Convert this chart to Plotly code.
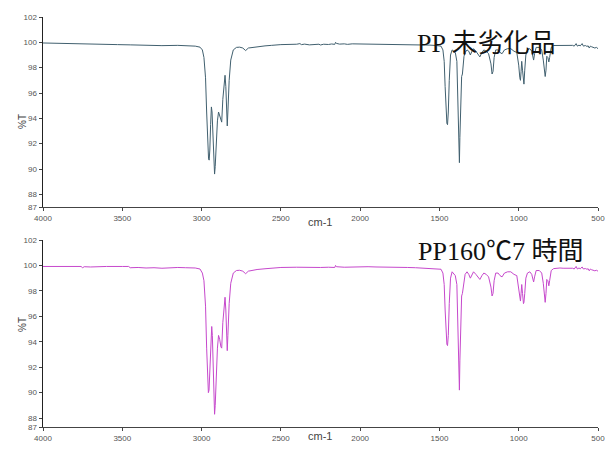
import plotly.graph_objects as go

# ---- data: top spectrum (PP 未劣化品) ----
wn_top = [4000, 3900, 3800, 3750, 3650, 3560, 3530, 3450, 3350, 3300, 3250, 3150, 3080, 3040, 3010,
          2995, 2985, 2975, 2968, 2962, 2956, 2952, 2948, 2943, 2938, 2934, 2928, 2922, 2918, 2914,
          2908, 2900, 2893, 2886, 2878, 2873, 2866, 2858, 2852, 2847, 2842, 2838, 2834, 2826, 2816,
          2800, 2780, 2760, 2740, 2722, 2705, 2680, 2650, 2600, 2560, 2500, 2400, 2380, 2370, 2350,
          2320, 2300, 2260, 2250, 2230, 2200, 2180, 2160, 2155, 2150, 2130, 2100, 2080, 2050, 2000,
          1950, 1900, 1850, 1800, 1750, 1700, 1650, 1600, 1560, 1520, 1490, 1478, 1470, 1464, 1458,
          1453, 1449, 1444, 1438, 1430, 1420, 1400, 1390, 1384, 1379, 1376, 1374, 1371, 1367, 1360,
          1355, 1345, 1338, 1326, 1315, 1305, 1295, 1285, 1270, 1255, 1245, 1232, 1220, 1205, 1190,
          1175, 1168, 1162, 1155, 1145, 1130, 1118, 1105, 1090, 1070, 1050, 1030, 1012, 1000, 993,
          989, 985, 981, 976, 970, 967, 962, 955, 945, 930, 918, 912, 906, 900, 890,
          870, 855, 845, 838, 833, 828, 823, 816, 810, 805, 795, 780, 760, 740, 720,
          700, 680, 660, 650, 645, 638, 630, 620, 612, 600, 592, 580, 570, 562, 555,
          548, 540, 530, 520, 510, 505, 500]
t_top = [99.95, 99.93, 99.90, 99.92, 99.90, 99.88, 99.82, 99.80, 99.76, 99.70, 99.74, 99.76, 99.74, 99.70, 99.62,
         99.40, 98.80, 97.20, 94.50, 92.00, 90.80, 90.70, 91.50, 93.50, 94.90, 94.50, 92.50, 90.20, 89.60, 90.20,
         92.00, 93.80, 94.50, 94.20, 93.80, 93.70, 95.50, 97.00, 97.40, 96.50, 94.50, 93.40, 94.50, 97.00, 98.60,
         99.40, 99.60, 99.62, 99.55, 99.35, 99.55, 99.60, 99.65, 99.72, 99.76, 99.82, 99.85, 99.90, 99.82, 99.86,
         99.80, 99.83, 99.85, 99.79, 99.85, 99.83, 99.87, 99.84, 100.00, 99.92, 99.86, 99.88, 99.84, 99.88, 99.87,
         99.90, 99.88, 99.88, 99.86, 99.86, 99.84, 99.82, 99.80, 99.78, 99.75, 99.70, 99.40, 98.50, 96.50, 94.50,
         93.60, 93.50, 94.50, 97.00, 99.00, 99.40, 99.20, 98.50, 96.00, 93.00, 91.00, 90.50, 92.50, 95.50, 97.30,
         97.50, 98.90, 99.20, 99.40, 99.30, 99.00, 99.30, 99.50, 99.30, 99.00, 98.85, 99.20, 99.40, 99.30, 99.10,
         98.30, 97.50, 97.70, 98.80, 99.40, 99.40, 99.20, 99.10, 99.40, 99.50, 99.50, 99.30, 99.20, 98.20, 97.20,
         97.00, 97.70, 98.50, 97.80, 96.80, 96.70, 97.80, 99.00, 99.40, 99.50, 99.30, 98.90, 98.60, 99.10, 99.60,
         99.60, 99.40, 98.60, 97.60, 97.30, 97.80, 98.90, 98.80, 98.45, 98.80, 99.60, 99.75, 99.75, 99.78, 99.76,
         99.80, 99.78, 99.76, 99.70, 99.78, 99.90, 99.70, 99.78, 99.72, 99.90, 99.70, 99.75, 99.68, 99.72, 99.55,
         99.70, 99.65, 99.62, 99.55, 99.60, 99.50, 99.50]

# ---- data: bottom spectrum (PP160℃7 時間) ----
wn_bot = [4000, 3900, 3850, 3820, 3760, 3750, 3740, 3700, 3650, 3600, 3500, 3460, 3450, 3400, 3350,
          3300, 3250, 3200, 3150, 3100, 3040, 3010, 2995, 2985, 2975, 2968, 2962, 2957, 2953, 2948,
          2942, 2936, 2932, 2927, 2922, 2918, 2914, 2908, 2900, 2893, 2886, 2878, 2873, 2866, 2858,
          2852, 2847, 2842, 2838, 2834, 2826, 2816, 2800, 2780, 2760, 2740, 2722, 2705, 2680, 2650,
          2600, 2560, 2500, 2400, 2350, 2300, 2250, 2200, 2160, 2155, 2150, 2100, 2050, 2000, 1950,
          1900, 1850, 1800, 1750, 1700, 1650, 1600, 1560, 1520, 1490, 1478, 1470, 1464, 1458, 1453,
          1449, 1444, 1438, 1430, 1420, 1400, 1390, 1384, 1379, 1376, 1374, 1371, 1367, 1360, 1355,
          1345, 1338, 1326, 1315, 1305, 1295, 1285, 1270, 1255, 1245, 1232, 1220, 1205, 1190, 1175,
          1168, 1162, 1155, 1145, 1130, 1118, 1105, 1090, 1070, 1050, 1030, 1012, 1000, 993, 989,
          985, 981, 976, 970, 967, 962, 955, 945, 930, 918, 912, 906, 900, 890, 870,
          855, 845, 838, 833, 828, 823, 816, 810, 805, 795, 780, 760, 740, 720, 700,
          680, 660, 650, 645, 638, 630, 620, 612, 600, 592, 580, 570, 562, 555, 548,
          540, 530, 520, 510, 505, 500]
t_bot = [99.92, 99.92, 99.88, 99.92, 99.92, 99.82, 99.90, 99.88, 99.92, 99.92, 99.92, 99.92, 99.82, 99.84, 99.80,
         99.82, 99.78, 99.82, 99.84, 99.82, 99.80, 99.72, 99.40, 98.80, 96.80, 93.50, 91.00, 90.00, 90.20, 92.00,
         94.00, 95.20, 94.50, 91.50, 89.00, 88.30, 89.00, 91.50, 93.50, 94.50, 94.20, 93.60, 93.50, 95.50, 97.20,
         97.50, 96.50, 94.50, 93.30, 94.50, 97.00, 98.60, 99.40, 99.60, 99.62, 99.55, 99.35, 99.55, 99.62, 99.68,
         99.74, 99.78, 99.84, 99.86, 99.84, 99.86, 99.84, 99.86, 99.84, 100.00, 99.90, 99.86, 99.88, 99.88, 99.90,
         99.88, 99.88, 99.86, 99.86, 99.84, 99.82, 99.80, 99.78, 99.75, 99.70, 99.40, 98.50, 96.50, 94.50, 93.80,
         93.70, 94.50, 97.00, 99.00, 99.50, 99.20, 98.50, 96.00, 93.00, 91.00, 90.20, 92.50, 95.50, 97.60, 97.80,
         98.90, 99.30, 99.50, 99.30, 99.00, 99.30, 99.50, 99.30, 99.00, 98.90, 99.20, 99.40, 99.30, 99.10, 98.30,
         97.60, 97.80, 98.80, 99.40, 99.40, 99.20, 99.10, 99.40, 99.50, 99.50, 99.30, 99.20, 98.20, 97.40, 97.20,
         97.80, 98.50, 97.80, 97.00, 97.10, 97.80, 99.00, 99.40, 99.50, 99.30, 99.00, 98.70, 99.10, 99.60, 99.60,
         99.40, 98.60, 97.40, 97.10, 97.80, 98.90, 98.80, 98.40, 98.80, 99.60, 99.75, 99.78, 99.80, 99.78, 99.80,
         99.80, 99.78, 99.72, 99.80, 99.92, 99.72, 99.80, 99.74, 99.88, 99.72, 99.76, 99.70, 99.74, 99.58, 99.72,
         99.66, 99.64, 99.58, 99.62, 99.54, 99.55]

x_ticks = [4000, 3500, 3000, 2500, 2000, 1500, 1000, 500]
y_ticks_top = [87, 88, 90, 92, 94, 96, 98, 100, 102]
y_ticks_bot = [87.3, 88, 90, 92, 94, 96, 98, 100, 102]
y_labels = ["87", "88", "90", "92", "94", "96", "98", "100", "102"]
titles = ["PP 未劣化品", "PP160℃7 時間"]

W, H = 605, 450
def px(x): return x / W
def py(y): return 1 - y / H

fig = go.Figure()
fig.add_trace(go.Scatter(x=wn_top, y=t_top, mode="lines", line=dict(color="#41606f", width=1),
                         xaxis="x", yaxis="y", showlegend=False, hoverinfo="skip"))
fig.add_trace(go.Scatter(x=wn_bot, y=t_bot, mode="lines", line=dict(color="#c648cc", width=1),
                         xaxis="x2", yaxis="y2", showlegend=False, hoverinfo="skip"))

tickfont = dict(family="Liberation Sans, Arial", size=8, color="#555555")
xcommon = dict(range=[4000, 500], tickvals=x_ticks, ticktext=[str(v) for v in x_ticks],
               showline=True, linecolor="#444444", linewidth=1, ticks="outside", ticklen=3,
               tickcolor="#444444", tickfont=tickfont, showgrid=False, zeroline=False,
               ticklabeloverflow="allow",
               domain=[px(43), px(598)], automargin=False, fixedrange=True)
ycommon = dict(showline=True, linecolor="#222222", linewidth=1.5, ticks="outside", ticklen=3,
               tickcolor="#444444", tickfont=tickfont, showgrid=False, zeroline=False,
               automargin=False, fixedrange=True, ticktext=y_labels)

fig.update_layout(
    width=W, height=H, margin=dict(l=0, r=0, t=0, b=0),
    paper_bgcolor="white", plot_bgcolor="white",
    xaxis=dict(**xcommon, anchor="y"),
    yaxis=dict(**ycommon, range=[87, 102], tickvals=y_ticks_top, domain=[py(207), py(17)], anchor="x"),
    xaxis2=dict(**xcommon, anchor="y2"),
    yaxis2=dict(**ycommon, range=[87.3, 102], tickvals=y_ticks_bot, domain=[py(427), py(240)], anchor="x2"),
)

lab = dict(family="Liberation Sans, Arial", color="#444444")
ann = []
for (ty, cy) in [(112, 222), (334, 444)]:
    ann.append(dict(x=px(15), y=py(ty), xref="paper", yref="paper", text="%T", showarrow=False,
                    textangle=-90, font=dict(size=10, **lab)))
    ann.append(dict(x=px(320), y=py(cy), xref="paper", yref="paper", text="cm-1", showarrow=False,
                    font=dict(size=11, **lab)))
serif = "Liberation Serif, Noto Sans CJK JP"
ann.append(dict(x=px(415), y=py(27), xref="paper", yref="paper", text=titles[0], showarrow=False,
                xanchor="left", font=dict(family=serif, size=26, color="#111111")))
ann.append(dict(x=px(416), y=py(251), xref="paper", yref="paper", text=titles[1], showarrow=False,
                xanchor="left", font=dict(family=serif, size=26, color="#111111")))
fig.update_layout(annotations=ann)

fig.write_html("out.html", config={"displayModeBar": False, "staticPlot": True},
               post_script="document.body.style.margin='0';document.body.style.overflow='hidden';")
